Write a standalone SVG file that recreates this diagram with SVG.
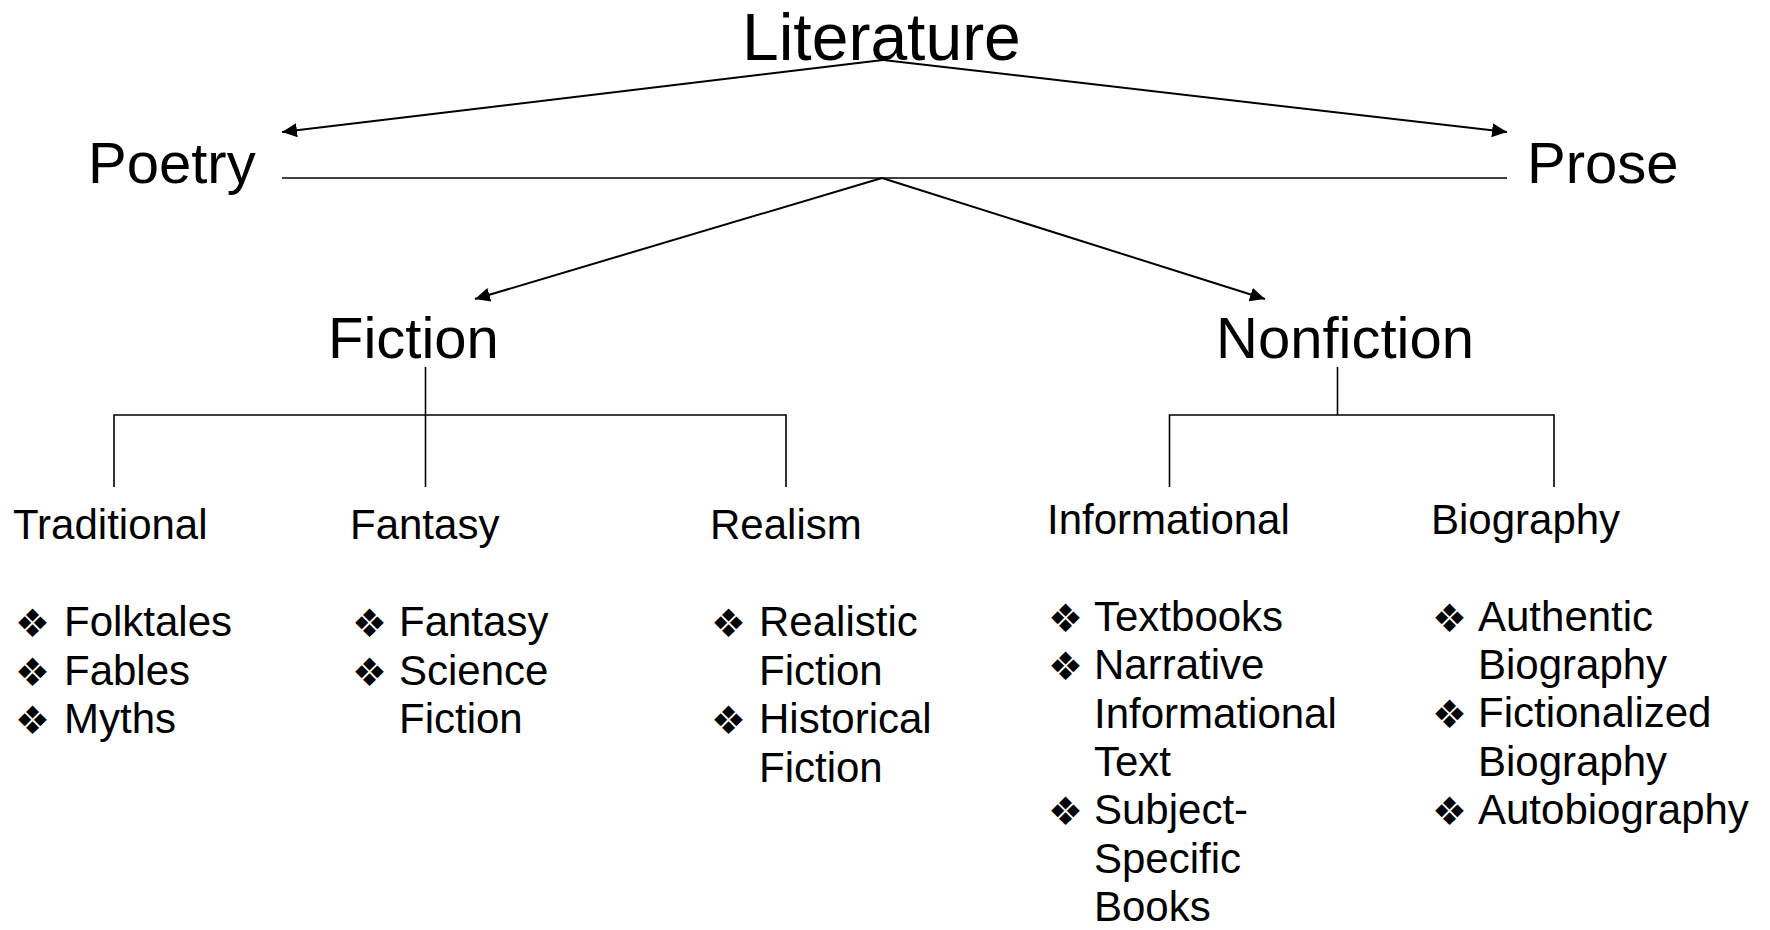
<svg xmlns="http://www.w3.org/2000/svg" width="1770" height="930" viewBox="0 0 1770 930">
  <style>
    text { font-family: "Liberation Sans", Arial, sans-serif; fill: #000; }
    .top { font-size: 66px; }
    .lvl { font-size: 58px; }
    .sub { font-size: 42px; }
    .item { font-size: 42px; }
    .bul { font-family: "DejaVu Sans", sans-serif; font-size: 39px; }
    .arrow { stroke: #000; stroke-width: 2; fill: none; marker-end: url(#head); }
    .line { stroke: #000; stroke-width: 1.6; fill: none; }
  </style>
  <defs>
    <marker id="head" markerUnits="userSpaceOnUse" markerWidth="16" markerHeight="16" refX="15" refY="7" orient="auto">
      <path d="M0,0 L15,7 L0,14 z" fill="#000"/>
    </marker>
  </defs>

  <rect width="1770" height="930" fill="#fff"/>

  <g id="connectors">
    <!-- Literature to Poetry / Prose -->
    <line class="arrow" x1="883" y1="60" x2="282" y2="132"/>
    <line class="arrow" x1="883" y1="60" x2="1507" y2="132"/>
    <!-- Prose baseline rule -->
    <line class="line" x1="282" y1="178" x2="1507" y2="178"/>
    <!-- Prose to Fiction / Nonfiction -->
    <line class="arrow" x1="882" y1="178" x2="475" y2="299"/>
    <line class="arrow" x1="882" y1="178" x2="1265" y2="299"/>
    <!-- Fiction bracket -->
    <line class="line" x1="425.5" y1="367" x2="425.5" y2="487"/>
    <polyline class="line" points="114,487 114,415 786,415 786,487"/>
    <!-- Nonfiction bracket -->
    <line class="line" x1="1337.5" y1="367" x2="1337.5" y2="415"/>
    <polyline class="line" points="1169.5,487 1169.5,415 1554,415 1554,487"/>
  </g>

  <g id="literature"><text class="top" x="742" y="60">Literature</text></g>
  <g id="poetry"><text class="lvl" x="88" y="183">Poetry</text></g>
  <g id="prose"><text class="lvl" x="1527" y="183">Prose</text></g>
  <g id="fiction"><text class="lvl" x="328" y="358">Fiction</text></g>
  <g id="nonfiction"><text class="lvl" x="1216" y="358">Nonfiction</text></g>

  <g id="traditional">
    <text class="sub" x="13" y="539">Traditional</text>
    <text class="bul" x="15" y="637">❖</text><text class="item" x="64" y="636">Folktales</text>
    <text class="bul" x="15" y="686">❖</text><text class="item" x="64" y="685">Fables</text>
    <text class="bul" x="15" y="734">❖</text><text class="item" x="64" y="733">Myths</text>
  </g>

  <g id="fantasy">
    <text class="sub" x="350" y="539">Fantasy</text>
    <text class="bul" x="352" y="637">❖</text><text class="item" x="399" y="636">Fantasy</text>
    <text class="bul" x="352" y="686">❖</text><text class="item" x="399" y="685">Science</text>
    <text class="item" x="399" y="733">Fiction</text>
  </g>

  <g id="realism">
    <text class="sub" x="710" y="539">Realism</text>
    <text class="bul" x="711" y="637">❖</text><text class="item" x="759" y="636">Realistic</text>
    <text class="item" x="759" y="685">Fiction</text>
    <text class="bul" x="711" y="734">❖</text><text class="item" x="759" y="733">Historical</text>
    <text class="item" x="759" y="782">Fiction</text>
  </g>

  <g id="informational">
    <text class="sub" x="1047" y="534">Informational</text>
    <text class="bul" x="1048" y="632">❖</text><text class="item" x="1094" y="631">Textbooks</text>
    <text class="bul" x="1048" y="680">❖</text><text class="item" x="1094" y="679">Narrative</text>
    <text class="item" x="1094" y="728">Informational</text>
    <text class="item" x="1094" y="776">Text</text>
    <text class="bul" x="1048" y="825">❖</text><text class="item" x="1094" y="824">Subject-</text>
    <text class="item" x="1094" y="873">Specific</text>
    <text class="item" x="1094" y="921">Books</text>
  </g>

  <g id="biography">
    <text class="sub" x="1431" y="534">Biography</text>
    <text class="bul" x="1432" y="632">❖</text><text class="item" x="1478" y="631">Authentic</text>
    <text class="item" x="1478" y="679">Biography</text>
    <text class="bul" x="1432" y="728">❖</text><text class="item" x="1478" y="727">Fictionalized</text>
    <text class="item" x="1478" y="776">Biography</text>
    <text class="bul" x="1432" y="825">❖</text><text class="item" x="1478" y="824">Autobiography</text>
  </g>
</svg>
